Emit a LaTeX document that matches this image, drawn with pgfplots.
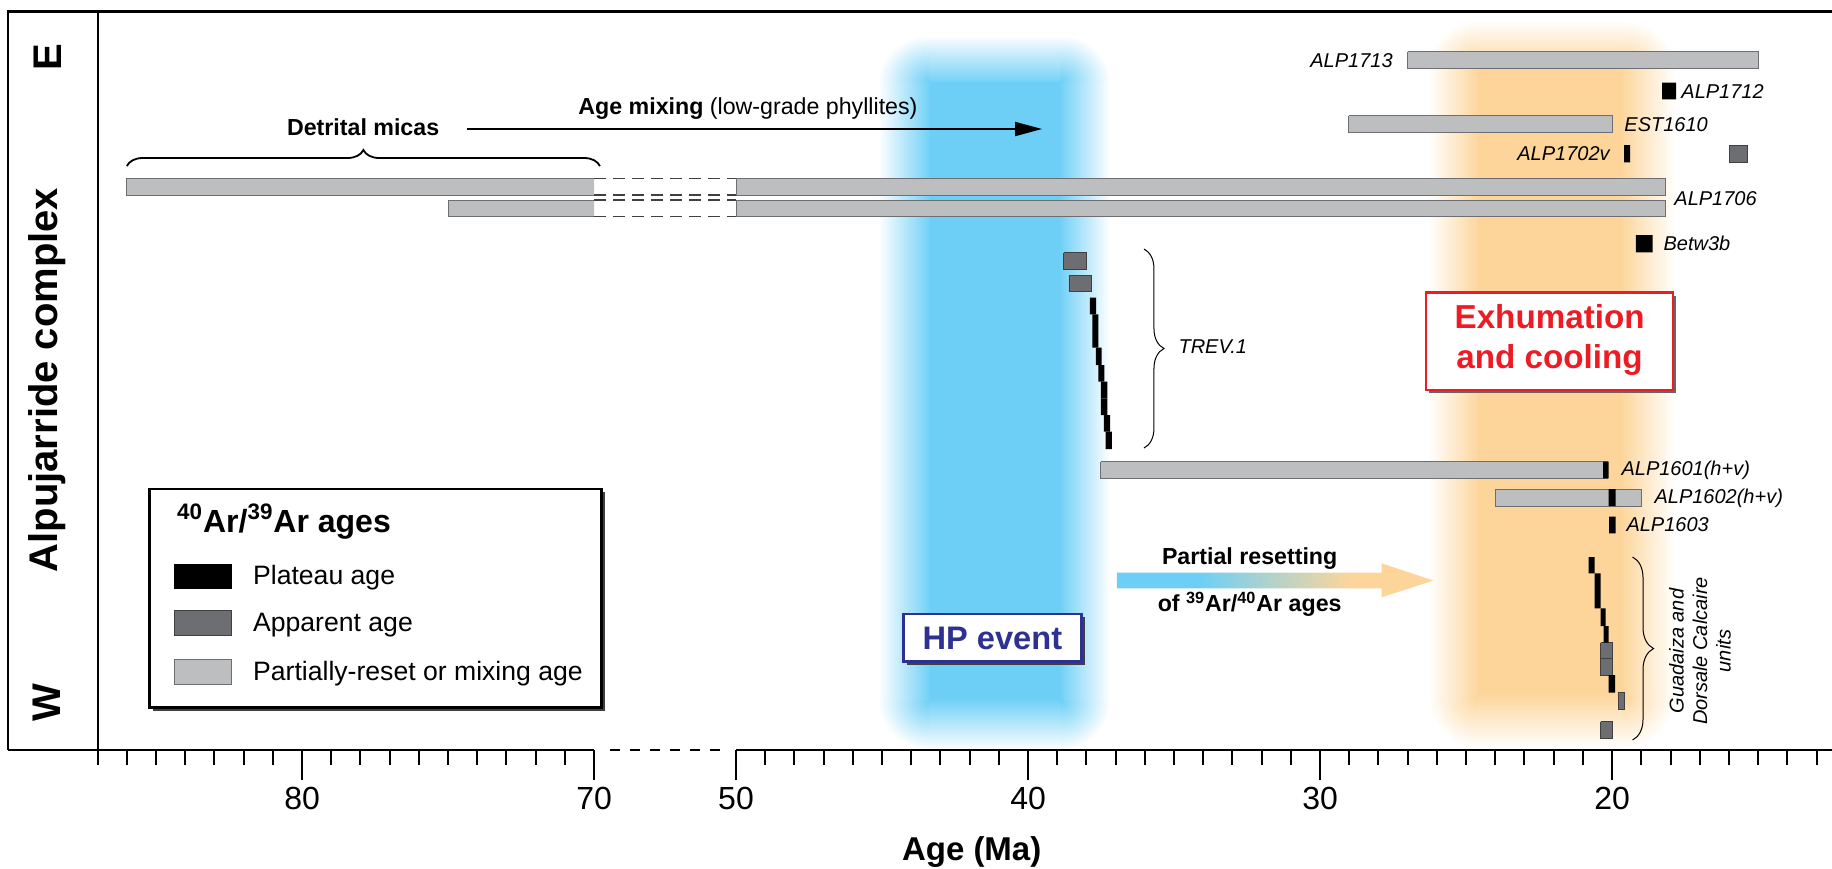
\documentclass[border=0pt]{standalone}
\usepackage{fontspec}
\setmainfont{Liberation Sans}
\usepackage{pgfplots}
\pgfplotsset{compat=1.18}
\usetikzlibrary{decorations.pathreplacing,arrows.meta}
\definecolor{cyanB}{HTML}{6DCFF6}
\definecolor{orangeB}{HTML}{FDD59A}
\definecolor{lightbar}{HTML}{BCBEC0}
\definecolor{darkbar}{HTML}{6D6E71}
\definecolor{baredge}{HTML}{6D6E71}
\definecolor{hpblue}{HTML}{2E3192}
\definecolor{exred}{HTML}{ED1C24}
\pgfdeclarehorizontalshading{resetshade}{100bp}{color(0bp)=(cyanB); color(38bp)=(cyanB); color(62bp)=(orangeB); color(100bp)=(orangeB)}
\newcommand{\fs}[1]{\fontsize{#1}{#1}\selectfont}
\newcommand{\fsb}[2]{\fontsize{#1}{#2}\selectfont}
\pgfplotsset{
  lgbar/.style={fill=lightbar, draw=baredge, line width=0.5pt},
  dgbar/.style={fill=darkbar, draw=black!75, line width=0.4pt},
  bkbar/.style={fill=black, draw=none},
}
% x = age in Ma for ages <= 50; for ages >= 70 the stored value is (age - 15.14) (broken axis)
\newcommand{\lbar}[4]{\addplot[lgbar] coordinates {(#1,#3) (#2,#3) (#2,#4) (#1,#4) (#1,#3)};}
\newcommand{\dbar}[4]{\addplot[dgbar] coordinates {(#1,#3) (#2,#3) (#2,#4) (#1,#4) (#1,#3)};}
\newcommand{\kbar}[4]{\addplot[bkbar] coordinates {(#1,#3) (#2,#3) (#2,#4) (#1,#4) (#1,#3)};}
\begin{document}
\begin{tikzpicture}
\begin{axis}[
  scale only axis, width=867pt, height=369.15pt,
  x dir=reverse, y dir=reverse,
  xmin=12.47, xmax=71.85, ymin=11.7, ymax=750,
  clip=false,
  axis x line*=bottom, axis y line=none,
  x axis line style={draw=none},
  xtick={20,30,40,50,54.86,64.86},
  xticklabels={20,30,40,50,70,80},
  minor xtick={13,14,15,16,17,18,19,21,22,23,24,25,26,27,28,29,31,32,33,34,35,36,37,38,39,41,42,43,44,45,46,47,48,49,55.86,56.86,57.86,58.86,59.86,60.86,61.86,62.86,63.86,65.86,66.86,67.86,68.86,69.86,70.86,71.85},
  tick align=outside,
  major tick length=15pt, minor tick length=7.5pt,
  every tick/.style={black},
  every major tick/.append style={line width=1.3pt},
  every minor tick/.append style={line width=1pt},
  xticklabel style={font=\fs{16}},
  ytick=\empty,
]
% ---- blurred band: HP event (blue)
\shade[left color=white, right color=cyanB] (axis cs:45.14,82) rectangle (axis cs:43.30,700);
\shade[left color=cyanB, right color=white] (axis cs:38.96,82) rectangle (axis cs:37.19,700);
\shade[top color=white, bottom color=cyanB] (axis cs:43.36,35) rectangle (axis cs:38.90,84);
\shade[top color=cyanB, bottom color=white] (axis cs:43.36,698) rectangle (axis cs:38.90,750);
\begin{scope}\clip (axis cs:45.14,35) rectangle (axis cs:43.36,82);
\shade[inner color=cyanB, outer color=white] (axis cs:45.14,35) rectangle (axis cs:41.58,129);\end{scope}
\begin{scope}\clip (axis cs:38.90,35) rectangle (axis cs:37.19,82);
\shade[inner color=cyanB, outer color=white] (axis cs:40.61,35) rectangle (axis cs:37.19,129);\end{scope}
\begin{scope}\clip (axis cs:45.14,700) rectangle (axis cs:43.36,750);
\shade[inner color=cyanB, outer color=white] (axis cs:45.14,650) rectangle (axis cs:41.58,750);\end{scope}
\begin{scope}\clip (axis cs:38.90,700) rectangle (axis cs:37.19,750);
\shade[inner color=cyanB, outer color=white] (axis cs:40.61,650) rectangle (axis cs:37.19,750);\end{scope}
\fill[cyanB] (axis cs:43.36,82) rectangle (axis cs:38.90,700);
% ---- blurred band: exhumation and cooling (orange)
\shade[left color=white, right color=orangeB] (axis cs:26.30,68) rectangle (axis cs:24.53,695);
\shade[left color=orangeB, right color=white] (axis cs:19.72,68) rectangle (axis cs:17.84,695);
\shade[top color=white, bottom color=orangeB] (axis cs:24.59,20) rectangle (axis cs:19.66,70);
\shade[top color=orangeB, bottom color=white] (axis cs:24.59,693) rectangle (axis cs:19.66,748);
\begin{scope}\clip (axis cs:26.30,20) rectangle (axis cs:24.59,68);
\shade[inner color=orangeB, outer color=white] (axis cs:26.30,20) rectangle (axis cs:22.88,116);\end{scope}
\begin{scope}\clip (axis cs:19.66,20) rectangle (axis cs:17.84,68);
\shade[inner color=orangeB, outer color=white] (axis cs:21.48,20) rectangle (axis cs:17.84,116);\end{scope}
\begin{scope}\clip (axis cs:26.30,695) rectangle (axis cs:24.59,748);
\shade[inner color=orangeB, outer color=white] (axis cs:26.30,642) rectangle (axis cs:22.88,748);\end{scope}
\begin{scope}\clip (axis cs:19.66,695) rectangle (axis cs:17.84,748);
\shade[inner color=orangeB, outer color=white] (axis cs:21.48,642) rectangle (axis cs:17.84,748);\end{scope}
\fill[orangeB] (axis cs:24.59,68) rectangle (axis cs:19.66,695);
% ---- frame
\draw[line width=1.35pt] (axis cs:74.93,750) -- (axis cs:74.93,11.7) -- (axis cs:12.47,11.7);
\draw[line width=1.35pt] (axis cs:71.85,11.7) -- (axis cs:71.85,750);
\draw[line width=1.35pt] (axis cs:74.93,750) -- (axis cs:54.86,750);
\draw[line width=1.35pt, dash pattern=on 5pt off 5pt] (axis cs:54.32,750) -- (axis cs:50.40,750);
\draw[line width=1.35pt] (axis cs:50,750) -- (axis cs:12.47,750);
% ---- partially-reset / mixing ages
\lbar{27.0}{15.0}{51.7}{68.3}
\lbar{29.02}{19.98}{115.7}{132.3}
\lbar{50}{18.18}{178.3}{195}
\lbar{50}{18.18}{200}{216.7}
\addplot[fill=lightbar, draw=none] coordinates {(70.86,178.3) (54.86,178.3) (54.86,195) (70.86,195) (70.86,178.3)};
\addplot[baredge, line width=0.5pt] coordinates {(54.86,178.3) (70.86,178.3) (70.86,195) (54.86,195)};
\addplot[fill=lightbar, draw=none] coordinates {(59.86,200) (54.86,200) (54.86,216.7) (59.86,216.7) (59.86,200)};
\addplot[baredge, line width=0.5pt] coordinates {(54.86,200) (59.86,200) (59.86,216.7) (54.86,216.7)};
\draw[black!75, line width=0.6pt, dash pattern=on 6pt off 3.5pt] (axis cs:54.86,178.3) -- (axis cs:50,178.3);
\draw[black!75, line width=0.6pt, dash pattern=on 6pt off 3.5pt] (axis cs:54.86,195) -- (axis cs:50,195);
\draw[black!75, line width=0.6pt, dash pattern=on 6pt off 3.5pt] (axis cs:54.86,200) -- (axis cs:50,200);
\draw[black!75, line width=0.6pt, dash pattern=on 6pt off 3.5pt] (axis cs:54.86,216.7) -- (axis cs:50,216.7);
\lbar{37.51}{20.15}{461.7}{478.3}
\lbar{24.01}{19.01}{489}{506}
% ---- apparent ages
\dbar{15.99}{15.38}{145}{162.3}
\dbar{38.78}{38.00}{252.7}{269.3}
\dbar{38.60}{37.82}{275}{291.7}
\dbar{20.39}{19.98}{642.7}{658.3}
\dbar{20.39}{19.98}{658.3}{675}
\dbar{19.79}{19.57}{692.3}{709}
\dbar{20.39}{19.98}{721.7}{738.3}
% ---- plateau ages
\kbar{18.29}{17.81}{82.7}{99.3}
\kbar{19.59}{19.38}{145}{162.3}
\kbar{19.19}{18.61}{235}{252.3}
\kbar{37.88}{37.67}{297.7}{314.3}
\kbar{37.80}{37.59}{314.3}{331}
\kbar{37.80}{37.59}{331}{347.7}
\kbar{37.68}{37.48}{347.7}{365}
\kbar{37.59}{37.39}{365}{381.7}
\kbar{37.51}{37.28}{381.7}{398.3}
\kbar{37.51}{37.28}{398.3}{415}
\kbar{37.40}{37.19}{415}{431.7}
\kbar{37.34}{37.13}{431.7}{449}
\kbar{20.31}{20.12}{461.7}{478.3}
\kbar{20.12}{19.88}{489}{506}
\kbar{20.10}{19.88}{516.7}{533.3}
\kbar{20.80}{20.60}{557}{573.3}
\kbar{20.60}{20.39}{573.3}{608.3}
\kbar{20.39}{20.22}{608.3}{626}
\kbar{20.29}{20.12}{626}{642.7}
\kbar{20.12}{19.90}{675}{692.7}
% ---- sample labels
\node[anchor=base east, inner sep=0pt, font=\itshape\fs{10}] at (axis cs:27.50,67) {ALP1713};
\node[anchor=base west, inner sep=0pt, font=\itshape\fs{10}] at (axis cs:17.64,98) {ALP1712};
\node[anchor=base west, inner sep=0pt, font=\itshape\fs{10}] at (axis cs:19.59,131) {EST1610};
\node[anchor=base east, inner sep=0pt, font=\itshape\fs{10}] at (axis cs:20.07,160) {ALP1702v};
\node[anchor=base west, inner sep=0pt, font=\itshape\fs{10}] at (axis cs:17.88,205) {ALP1706};
\node[anchor=base west, inner sep=0pt, font=\itshape\fs{10}] at (axis cs:18.25,250) {Betw3b};
\node[anchor=base west, inner sep=0pt, font=\itshape\fs{10}] at (axis cs:34.86,353) {TREV.1};
\node[anchor=base west, inner sep=0pt, font=\itshape\fs{10}] at (axis cs:19.69,475) {ALP1601(h+v)};
\node[anchor=base west, inner sep=0pt, font=\itshape\fs{10}] at (axis cs:18.56,503) {ALP1602(h+v)};
\node[anchor=base west, inner sep=0pt, font=\itshape\fs{10}] at (axis cs:19.52,531) {ALP1603};
\node[rotate=90, align=center, inner sep=0pt, font=\itshape\fsb{10}{11.75}] at (axis cs:16.99,651) {Guadaiza and\\Dorsale Calcaire\\units};
% ---- braces
\draw[decorate, decoration={brace, amplitude=8pt}, line width=0.9pt] (axis cs:70.86,166) -- (axis cs:54.66,166);
\draw[decorate, decoration={brace, amplitude=10pt}, line width=0.5pt] (axis cs:36.03,249) -- (axis cs:36.03,448);
\draw[decorate, decoration={brace, amplitude=10.5pt}, line width=0.5pt] (axis cs:19.30,557) -- (axis cs:19.30,740);
% ---- annotations
\node[anchor=base, inner sep=0pt, font=\bfseries\fs{11.6}] at (axis cs:62.77,135) {Detrital micas};
\draw[line width=1pt, -{Triangle[length=13.5pt, width=7pt]}] (axis cs:59.21,129) -- (axis cs:39.52,129);
\node[anchor=base west, inner sep=0pt, font=\fs{11.6}] at (axis cs:55.41,114.3) {\textbf{Age mixing} (low-grade phyllites)};
\shade[shading=resetshade] (axis cs:36.96,572.7) -- (axis cs:27.89,572.7) -- (axis cs:27.89,563.3) -- (axis cs:26.12,580.5) -- (axis cs:27.89,597.3) -- (axis cs:27.89,588.3) -- (axis cs:36.96,588.3) -- cycle;
\node[anchor=base, inner sep=0pt, font=\bfseries\fs{11.6}] at (axis cs:32.41,564) {Partial resetting};
\node[anchor=base, inner sep=0pt, font=\bfseries\fs{11.6}] at (axis cs:32.41,611.7) {of \textsuperscript{39}Ar/\textsuperscript{40}Ar ages};
% HP event box
\fill[black!75] (axis cs:44.16,617.3) rectangle (axis cs:38.05,665);
\filldraw[fill=white, draw=hpblue, line width=1.35pt] (axis cs:44.27,614) rectangle (axis cs:38.16,661.7);
\node[font=\bfseries\fs{16.3}, text=hpblue] at (axis cs:41.22,638) {HP event};
% Exhumation box
\fill[black!60] (axis cs:26.26,296) rectangle (axis cs:17.80,393.3);
\filldraw[fill=white, draw=exred, line width=1.35pt] (axis cs:26.37,292.7) rectangle (axis cs:17.91,390);
\node[font=\bfseries\fsb{16.6}{20}, text=exred, align=center] at (axis cs:22.14,340) {Exhumation\\and cooling};
% ---- legend
\fill[black!75] (axis cs:69.98,492.3) rectangle (axis cs:54.49,710.6);
\filldraw[fill=white, draw=black, line width=1.35pt] (axis cs:70.09,489) rectangle (axis cs:54.60,707.3);
\node[anchor=base west, inner sep=0pt, font=\bfseries\fs{16}] at (axis cs:69.15,532.3) {\textsuperscript{40}Ar/\textsuperscript{39}Ar ages};
\fill[black] (axis cs:69.23,564) rectangle (axis cs:67.27,589);
\filldraw[fill=darkbar, draw=black!75, line width=0.4pt] (axis cs:69.23,610.7) rectangle (axis cs:67.27,635.7);
\filldraw[fill=lightbar, draw=baredge, line width=0.5pt] (axis cs:69.23,659) rectangle (axis cs:67.27,684);
\node[anchor=base west, inner sep=0pt, font=\fs{13.3}] at (axis cs:66.55,584.3) {Plateau age};
\node[anchor=base west, inner sep=0pt, font=\fs{13.3}] at (axis cs:66.55,631.7) {Apparent age};
\node[anchor=base west, inner sep=0pt, font=\fs{13.3}] at (axis cs:66.55,680) {Partially-reset or mixing age};
% ---- left column and axis title
\node[rotate=90, font=\bfseries\fs{20}] at (axis cs:73.56,57) {E};
\node[rotate=90, font=\bfseries\fs{20}] at (axis cs:73.59,380) {Alpujarride complex};
\node[rotate=90, font=\bfseries\fs{20}] at (axis cs:73.59,703) {W};
\node[anchor=base, inner sep=0pt, font=\bfseries\fs{16.5}] at (axis cs:41.93,860) {Age (Ma)};
\coordinate (bbTL) at (axis cs:75.205,0);
\coordinate (bbBR) at (axis cs:12.47,868);
\end{axis}
\pgfresetboundingbox
\useasboundingbox (bbTL) rectangle (bbBR);
\end{tikzpicture}
\end{document}
